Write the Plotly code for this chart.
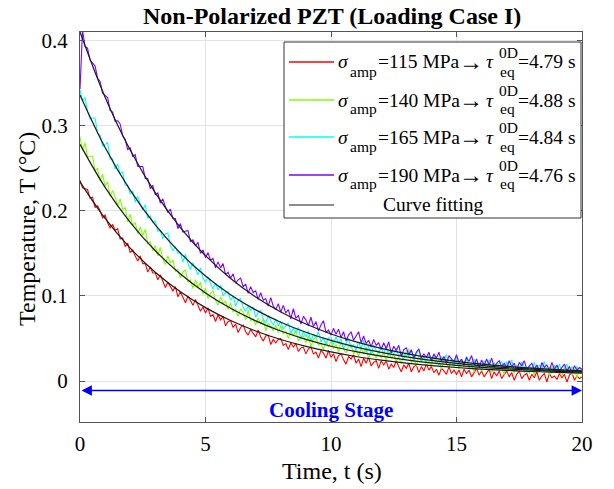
import plotly.graph_objects as go

# ---------------- data ----------------
t_data = [round(0.1 * i, 1) for i in range(201)]

temp_115 = [
    0.236, 0.227, 0.226, 0.225, 0.215, 0.216, 0.204, 0.206, 0.200, 0.192,
    0.195, 0.186, 0.180, 0.184, 0.177, 0.179, 0.167, 0.168, 0.158, 0.162,
    0.151, 0.154, 0.147, 0.141, 0.147, 0.138, 0.138, 0.128, 0.134, 0.127,
    0.127, 0.119, 0.125, 0.117, 0.110, 0.116, 0.111, 0.106, 0.111, 0.099,
    0.105, 0.098, 0.092, 0.100, 0.095, 0.089, 0.096, 0.088, 0.082, 0.087,
    0.080, 0.086, 0.076, 0.078, 0.070, 0.078, 0.072, 0.076, 0.065, 0.070,
    0.071, 0.063, 0.067, 0.057, 0.063, 0.066, 0.058, 0.054, 0.061, 0.056,
    0.052, 0.060, 0.052, 0.047, 0.053, 0.054, 0.043, 0.049, 0.045, 0.049,
    0.050, 0.042, 0.044, 0.037, 0.045, 0.040, 0.044, 0.035, 0.039, 0.040,
    0.032, 0.038, 0.040, 0.032, 0.034, 0.027, 0.036, 0.033, 0.027, 0.036,
    0.028, 0.032, 0.023, 0.030, 0.032, 0.025, 0.020, 0.029, 0.026, 0.031,
    0.021, 0.026, 0.017, 0.027, 0.021, 0.028, 0.018, 0.022, 0.024, 0.015,
    0.024, 0.019, 0.024, 0.014, 0.020, 0.016, 0.024, 0.017, 0.011, 0.019,
    0.015, 0.021, 0.011, 0.017, 0.019, 0.010, 0.017, 0.012, 0.020, 0.013,
    0.017, 0.010, 0.014, 0.007, 0.015, 0.012, 0.008, 0.017, 0.009, 0.013,
    0.008, 0.013, 0.005, 0.014, 0.009, 0.013, 0.005, 0.010, 0.015, 0.007,
    0.012, 0.005, 0.010, 0.014, 0.003, 0.011, 0.006, 0.012, 0.003, 0.008,
    0.012, 0.005, 0.010, 0.001, 0.008, 0.012, 0.003, 0.007, 0.009, 0.001,
    0.008, 0.004, 0.011, 0.001, 0.006, 0.009, -0.001, 0.009, 0.004, 0.006,
    0.002, 0.009, 0.004, 0.008, -0.001, 0.007, 0.010, 0.001, 0.006, 0.003,
    0.005,
]

temp_140 = [
    0.287, 0.271, 0.280, 0.263, 0.264, 0.264, 0.247, 0.250, 0.235, 0.243,
    0.229, 0.234, 0.217, 0.224, 0.216, 0.206, 0.214, 0.201, 0.204, 0.187,
    0.196, 0.183, 0.186, 0.173, 0.181, 0.171, 0.178, 0.161, 0.164, 0.153,
    0.159, 0.147, 0.157, 0.144, 0.137, 0.147, 0.139, 0.142, 0.129, 0.131,
    0.121, 0.128, 0.131, 0.116, 0.119, 0.109, 0.119, 0.110, 0.116, 0.102,
    0.109, 0.097, 0.103, 0.106, 0.095, 0.089, 0.099, 0.091, 0.094, 0.084,
    0.092, 0.081, 0.084, 0.076, 0.085, 0.081, 0.072, 0.083, 0.071, 0.073,
    0.066, 0.074, 0.067, 0.073, 0.059, 0.068, 0.064, 0.059, 0.066, 0.057,
    0.065, 0.055, 0.059, 0.050, 0.059, 0.053, 0.060, 0.047, 0.052, 0.053,
    0.045, 0.053, 0.040, 0.049, 0.052, 0.042, 0.044, 0.037, 0.047, 0.040,
    0.047, 0.038, 0.043, 0.034, 0.046, 0.038, 0.033, 0.041, 0.043, 0.032,
    0.038, 0.029, 0.039, 0.032, 0.040, 0.026, 0.035, 0.032, 0.027, 0.036,
    0.027, 0.034, 0.023, 0.036, 0.027, 0.031, 0.023, 0.029, 0.020, 0.031,
    0.029, 0.038, 0.021, 0.027, 0.018, 0.029, 0.022, 0.029, 0.018, 0.023,
    0.018, 0.028, 0.020, 0.025, 0.014, 0.024, 0.021, 0.016, 0.025, 0.017,
    0.025, 0.014, 0.022, 0.017, 0.026, 0.015, 0.019, 0.011, 0.022, 0.017,
    0.012, 0.021, 0.015, 0.022, 0.010, 0.018, 0.021, 0.013, 0.015, 0.008,
    0.021, 0.012, 0.018, 0.009, 0.019, 0.014, 0.021, 0.010, 0.016, 0.009,
    0.017, 0.007, 0.019, 0.012, 0.020, 0.010, 0.014, 0.007, 0.017, 0.012,
    0.018, 0.010, 0.006, 0.017, 0.012, 0.018, 0.007, 0.014, 0.004, 0.015,
    0.010,
]

temp_165 = [
    0.342, 0.329, 0.333, 0.317, 0.308, 0.309, 0.309, 0.291, 0.289, 0.276,
    0.278, 0.280, 0.261, 0.261, 0.249, 0.255, 0.243, 0.246, 0.230, 0.230,
    0.220, 0.223, 0.210, 0.217, 0.208, 0.201, 0.207, 0.191, 0.194, 0.186,
    0.188, 0.176, 0.177, 0.167, 0.173, 0.174, 0.160, 0.153, 0.158, 0.150,
    0.151, 0.140, 0.149, 0.138, 0.131, 0.139, 0.132, 0.125, 0.133, 0.121,
    0.116, 0.123, 0.115, 0.108, 0.115, 0.107, 0.113, 0.100, 0.104, 0.105,
    0.095, 0.100, 0.088, 0.095, 0.097, 0.087, 0.082, 0.088, 0.083, 0.087,
    0.075, 0.081, 0.083, 0.073, 0.068, 0.077, 0.071, 0.066, 0.073, 0.065,
    0.070, 0.061, 0.065, 0.068, 0.056, 0.062, 0.057, 0.063, 0.050, 0.058,
    0.052, 0.059, 0.047, 0.055, 0.051, 0.058, 0.046, 0.051, 0.043, 0.051,
    0.051, 0.043, 0.052, 0.044, 0.050, 0.038, 0.044, 0.050, 0.039, 0.043,
    0.036, 0.046, 0.038, 0.048, 0.034, 0.041, 0.031, 0.042, 0.036, 0.033,
    0.041, 0.032, 0.042, 0.030, 0.036, 0.032, 0.039, 0.029, 0.035, 0.025,
    0.035, 0.028, 0.036, 0.024, 0.032, 0.037, 0.024, 0.029, 0.022, 0.032,
    0.023, 0.031, 0.024, 0.019, 0.029, 0.025, 0.031, 0.020, 0.027, 0.018,
    0.029, 0.019, 0.025, 0.020, 0.029, 0.016, 0.022, 0.026, 0.015, 0.022,
    0.015, 0.024, 0.019, 0.025, 0.016, 0.022, 0.013, 0.021, 0.023, 0.014,
    0.023, 0.016, 0.025, 0.012, 0.019, 0.013, 0.023, 0.017, 0.010, 0.019,
    0.013, 0.022, 0.011, 0.019, 0.015, 0.023, 0.011, 0.017, 0.009, 0.019,
    0.013, 0.020, 0.011, 0.015, 0.020, 0.009, 0.017, 0.013, 0.017, 0.010,
    0.014,
]

temp_190 = [
    0.343, 0.412, 0.393, 0.391, 0.377, 0.374, 0.370, 0.356, 0.352, 0.338,
    0.336, 0.333, 0.318, 0.316, 0.305, 0.306, 0.302, 0.288, 0.284, 0.272,
    0.274, 0.264, 0.266, 0.252, 0.252, 0.252, 0.238, 0.238, 0.226, 0.230,
    0.219, 0.221, 0.209, 0.214, 0.205, 0.198, 0.202, 0.191, 0.191, 0.179,
    0.185, 0.175, 0.176, 0.177, 0.164, 0.166, 0.159, 0.163, 0.150, 0.154,
    0.145, 0.151, 0.142, 0.144, 0.133, 0.140, 0.133, 0.138, 0.125, 0.128,
    0.121, 0.126, 0.115, 0.119, 0.121, 0.111, 0.114, 0.103, 0.111, 0.104,
    0.106, 0.096, 0.104, 0.095, 0.097, 0.088, 0.098, 0.088, 0.084, 0.091,
    0.081, 0.089, 0.080, 0.084, 0.073, 0.085, 0.074, 0.077, 0.067, 0.076,
    0.072, 0.065, 0.075, 0.064, 0.070, 0.059, 0.066, 0.071, 0.057, 0.060,
    0.054, 0.062, 0.055, 0.061, 0.051, 0.058, 0.047, 0.054, 0.058, 0.048,
    0.053, 0.058, 0.045, 0.053, 0.044, 0.048, 0.040, 0.049, 0.042, 0.045,
    0.037, 0.045, 0.038, 0.046, 0.033, 0.041, 0.036, 0.042, 0.029, 0.037,
    0.039, 0.031, 0.037, 0.027, 0.034, 0.038, 0.027, 0.032, 0.028, 0.034,
    0.024, 0.032, 0.027, 0.034, 0.023, 0.029, 0.021, 0.030, 0.026, 0.023,
    0.031, 0.022, 0.026, 0.019, 0.028, 0.023, 0.030, 0.019, 0.026, 0.016,
    0.025, 0.018, 0.026, 0.019, 0.027, 0.016, 0.021, 0.024, 0.017, 0.021,
    0.015, 0.024, 0.017, 0.021, 0.012, 0.022, 0.018, 0.024, 0.014, 0.018,
    0.021, 0.014, 0.019, 0.011, 0.022, 0.016, 0.019, 0.012, 0.022, 0.014,
    0.019, 0.012, 0.016, 0.020, 0.012, 0.017, 0.010, 0.018, 0.013, 0.016,
    0.014,
]

t_fit = list(range(21))
fit_115 = [0.2340, 0.1910, 0.1562, 0.1279, 0.1049, 0.0863, 0.0712, 0.0589, 0.0489, 0.0408,
           0.0343, 0.0289, 0.0246, 0.0211, 0.0183, 0.0160, 0.0141, 0.0126, 0.0113, 0.0103, 0.0095]
fit_140 = [0.2780, 0.2276, 0.1865, 0.1531, 0.1258, 0.1036, 0.0855, 0.0708, 0.0588, 0.0490,
           0.0410, 0.0346, 0.0293, 0.0250, 0.0214, 0.0186, 0.0162, 0.0143, 0.0128, 0.0115, 0.0105]
fit_165 = [0.3360, 0.2744, 0.2243, 0.1835, 0.1504, 0.1234, 0.1015, 0.0837, 0.0692, 0.0574,
           0.0478, 0.0400, 0.0337, 0.0285, 0.0243, 0.0209, 0.0181, 0.0158, 0.0140, 0.0125, 0.0113]
fit_190 = [0.4100, 0.3335, 0.2714, 0.2211, 0.1804, 0.1473, 0.1205, 0.0988, 0.0812, 0.0670,
           0.0554, 0.0461, 0.0385, 0.0323, 0.0273, 0.0233, 0.0200, 0.0174, 0.0152, 0.0135, 0.0120]

amplitudes = ["115", "140", "165", "190"]
taus = ["4.79", "4.88", "4.84", "4.76"]
series_colors = ["#FF0000", "#80FF00", "#00FFFF", "#7F00FF"]

x_ticks = [0, 5, 10, 15, 20]
x_ticklabels = ["0", "5", "10", "15", "20"]
y_ticks = [0, 0.1, 0.2, 0.3, 0.4]
y_ticklabels = ["0", "0.1", "0.2", "0.3", "0.4"]

# ---------------- figure ----------------
W, H = 614, 489
ML, MR, MT, MB = 80, 32, 32, 67
PW, PH = W - ML - MR, H - MT - MB
FONT = "Liberation Serif, Times New Roman, serif"


def px(x):
    return (x - ML) / PW


def py(y):
    return (H - MB - y) / PH


fig = go.Figure()
for vals, col in zip([temp_115, temp_140, temp_165, temp_190], series_colors):
    fig.add_trace(go.Scatter(x=t_data, y=vals, mode="lines",
                             line=dict(color=col, width=1.1), showlegend=False))
for vals in [fit_115, fit_140, fit_165, fit_190]:
    fig.add_trace(go.Scatter(x=t_fit, y=vals, mode="lines",
                             line=dict(color="#1a1a1a", width=1.2, shape="spline"),
                             showlegend=False))

axis_common = dict(
    showline=True, linecolor="#555555", linewidth=1, mirror="ticks",
    ticks="inside", ticklen=5, tickcolor="#555555",
    showgrid=True, gridcolor="#E3E3E3", gridwidth=1, zeroline=False,
    tickfont=dict(family=FONT, size=21, color="black"),
)

fig.update_xaxes(range=[0, 20], tickvals=x_ticks, ticktext=x_ticklabels,
                 ticklabelstandoff=3, **axis_common)
fig.update_yaxes(range=[-0.048, 0.41], tickvals=y_ticks, ticktext=y_ticklabels,
                 ticklabelstandoff=7, **axis_common)

annotations = []
annotations.append(dict(text="<b>Non-Polarized PZT (Loading Case I)</b>", x=px(332), y=py(16),
                        xref="paper", yref="paper", showarrow=False, xanchor="center", yanchor="middle",
                        font=dict(family=FONT, size=24, color="black")))
annotations.append(dict(text="Time, t (s)", x=px(332), y=py(471),
                        xref="paper", yref="paper", showarrow=False, xanchor="center", yanchor="middle",
                        font=dict(family=FONT, size=24, color="black")))
annotations.append(dict(text="Temperature, T (°C)", x=px(27), y=py(229), textangle=-90,
                        xref="paper", yref="paper", showarrow=False, xanchor="center", yanchor="middle",
                        font=dict(family=FONT, size=24, color="black")))

annotations.append(dict(x=20, y=-0.011, ax=0, ay=-0.011, xref="x", yref="y", axref="x", ayref="y",
                        text="", showarrow=True, arrowhead=2, startarrowhead=2, arrowside="end+start",
                        arrowsize=1.6, startarrowsize=1.6, arrowwidth=1.3, arrowcolor="#0000FF",
                        standoff=0, startstandoff=0))
annotations.append(dict(text="<b>Cooling Stage</b>", x=10, y=-0.034, xref="x", yref="y",
                        showarrow=False, xanchor="center", yanchor="middle",
                        font=dict(family=FONT, size=21, color="#0000FF")))

# custom legend
shapes = [dict(type="rect", xref="paper", yref="paper", x0=px(284), x1=px(581), y0=py(218), y1=py(42),
               line=dict(color="#333333", width=1), fillcolor="white", layer="above")]
row_y = [62, 100, 137, 175]
main_font = dict(family=FONT, size=19.5, color="black")
small_font = dict(family=FONT, size=15.5, color="black")
arrow_font = dict(family=FONT, size=24, color="black")


def legend_text(text, x, y, font, anchor="left"):
    return dict(text=text, x=px(x), y=py(y), xref="paper", yref="paper", showarrow=False,
                xanchor=anchor, yanchor="middle", font=font, borderpad=0)


for ry, amp, tau, col in zip(row_y, amplitudes, taus, series_colors):
    shapes.append(dict(type="line", xref="paper", yref="paper", x0=px(289), x1=px(334),
                       y0=py(ry), y1=py(ry), line=dict(color=col, width=1.3), layer="above"))
    annotations.append(legend_text("<i>σ</i>", 337, ry, main_font))
    annotations.append(legend_text("amp", 349, ry + 9, small_font))
    annotations.append(legend_text("=" + amp + " MPa", 377, ry, main_font))
    annotations.append(legend_text("→", 471, ry, arrow_font, anchor="center"))
    annotations.append(legend_text("<i>τ</i>", 485, ry, main_font))
    annotations.append(legend_text("0D", 498, ry - 10, small_font))
    annotations.append(legend_text("eq", 499, ry + 9, small_font))
    annotations.append(legend_text("=" + tau + " s", 517, ry, main_font))
shapes.append(dict(type="line", xref="paper", yref="paper", x0=px(289), x1=px(334),
                   y0=py(205), y1=py(205), line=dict(color="#1a1a1a", width=1.2), layer="above"))
annotations.append(legend_text("Curve fitting", 433, 204, main_font, anchor="center"))

fig.update_layout(
    width=W, height=H,
    margin=dict(l=ML, r=MR, t=MT, b=MB, pad=0),
    paper_bgcolor="white", plot_bgcolor="white",
    showlegend=False,
    annotations=annotations, shapes=shapes,
    font=dict(family=FONT, color="black"),
)

fig.write_html("out.html")
